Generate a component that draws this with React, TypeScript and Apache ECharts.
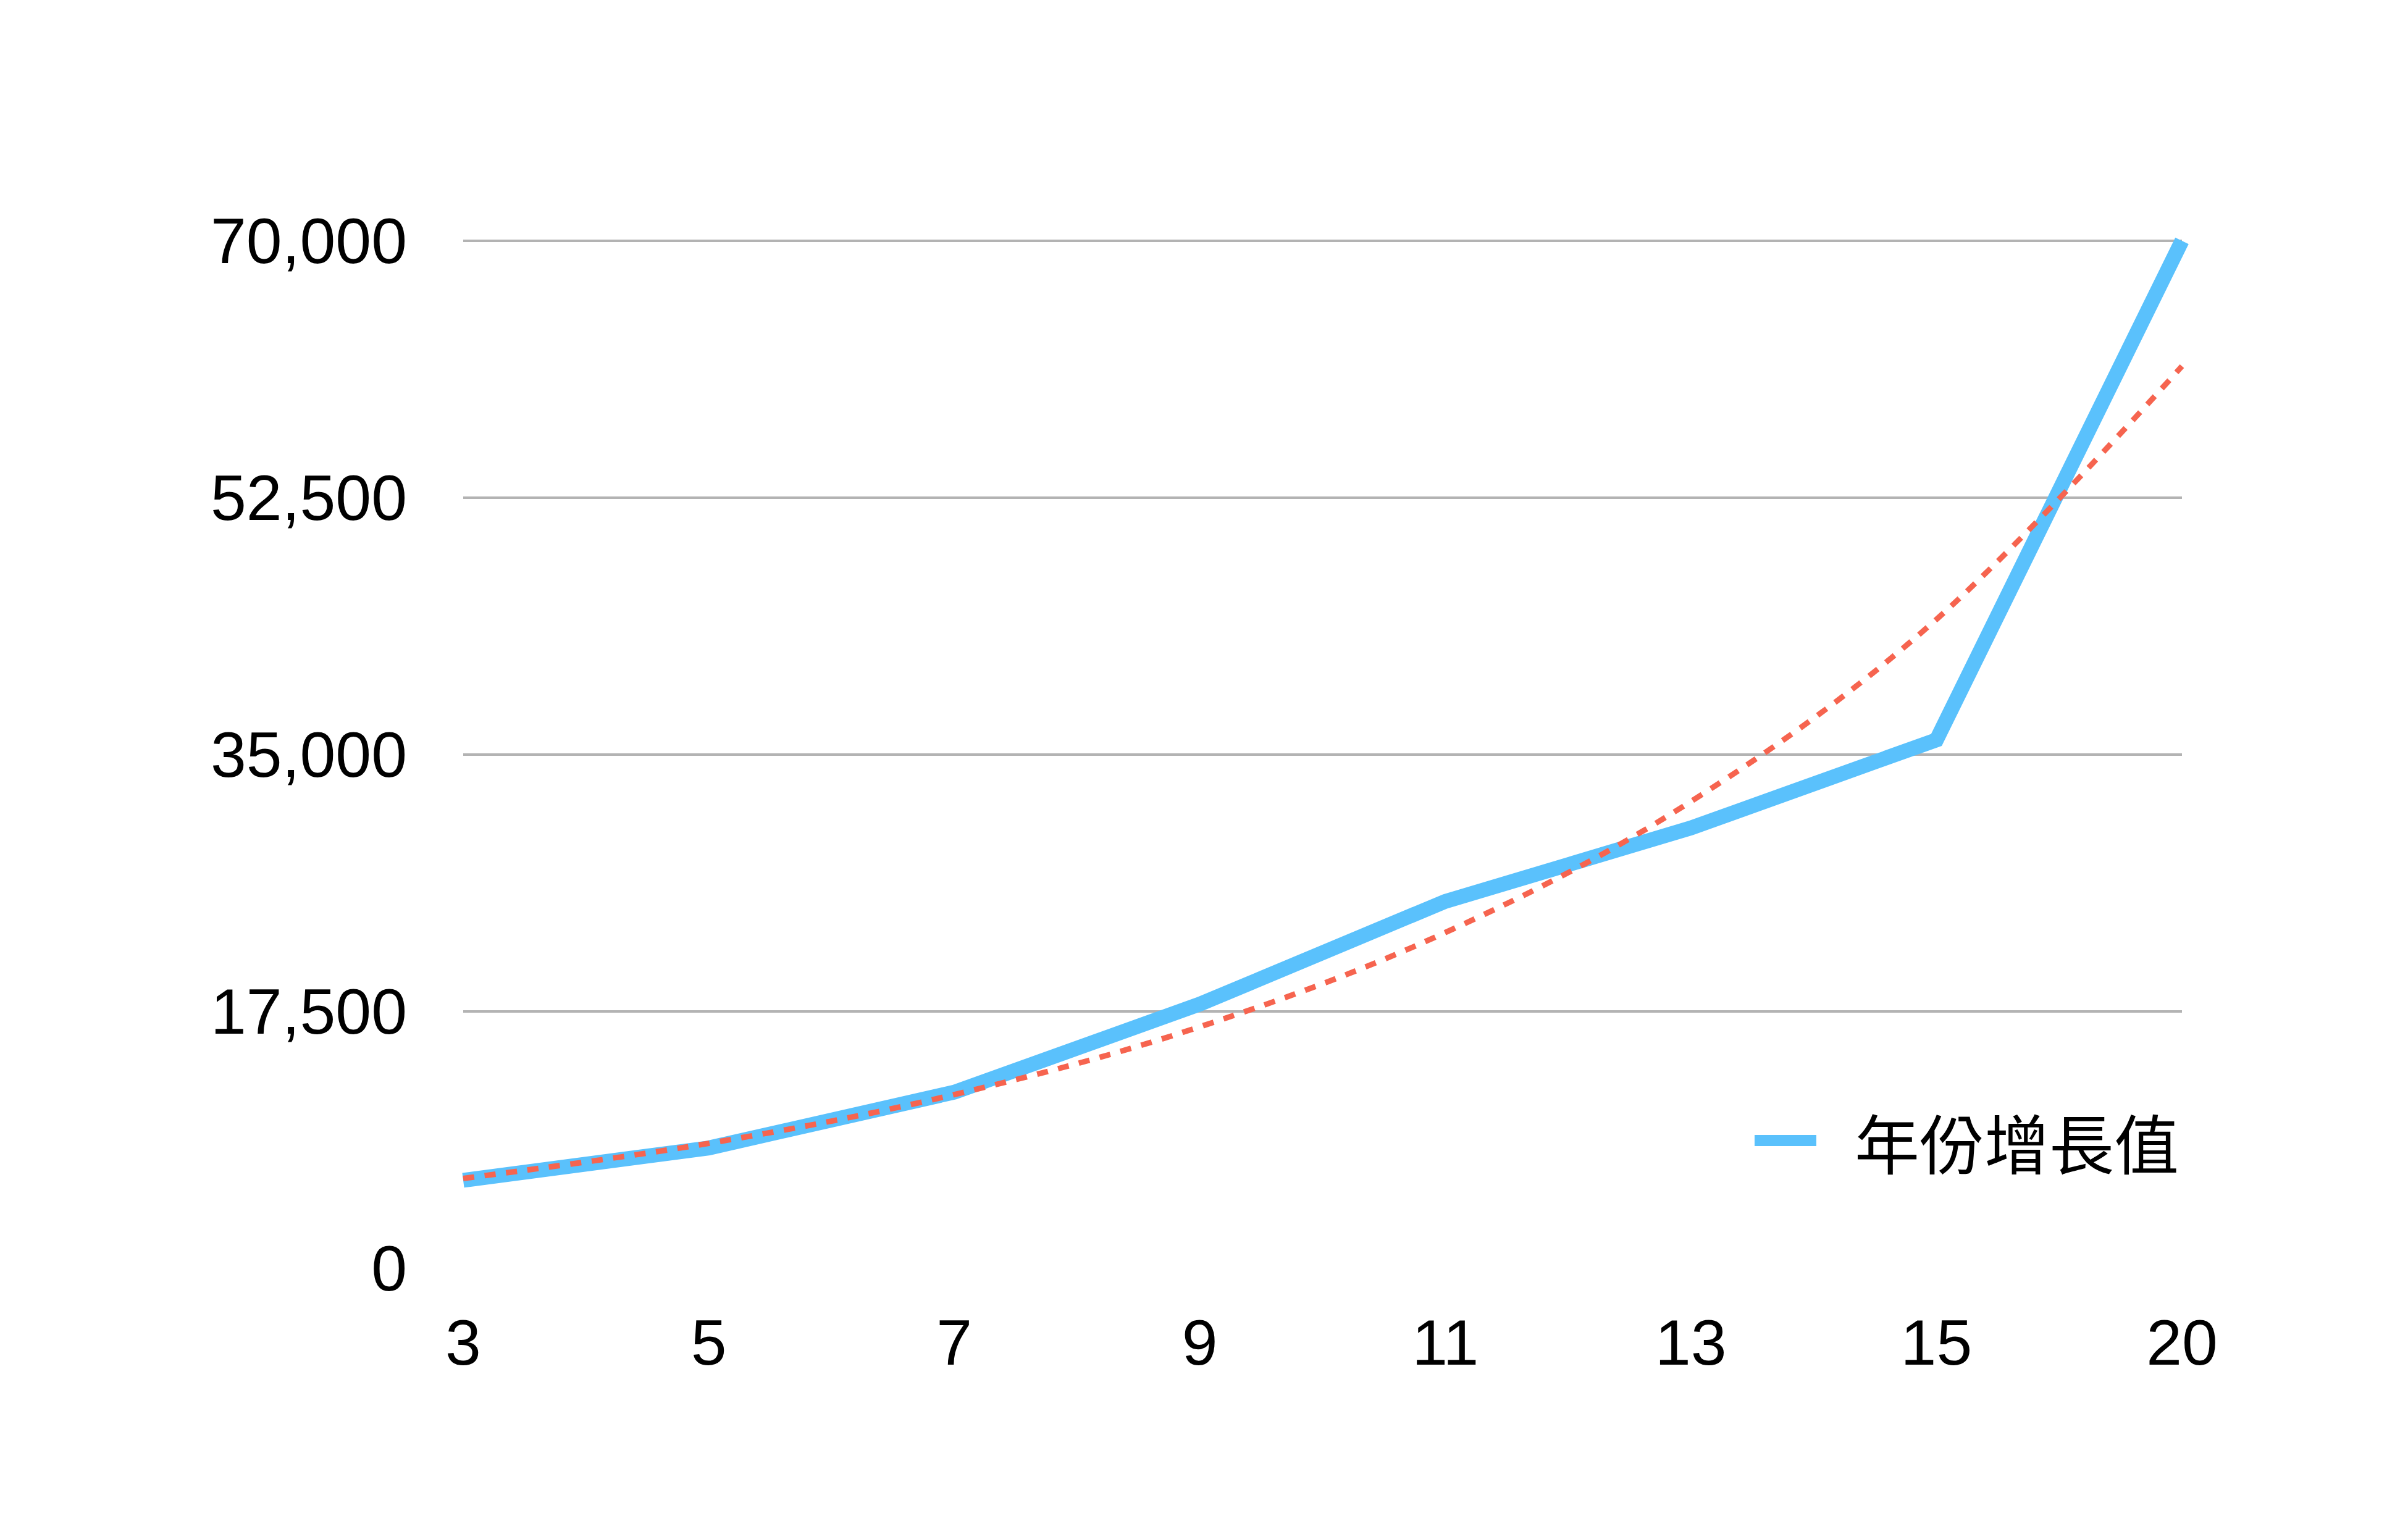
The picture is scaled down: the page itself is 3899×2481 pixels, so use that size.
import React, { useEffect, useRef } from "react";
import * as echarts from "echarts";

// Category labels along the x axis
const categories: string[] = ["3", "5", "7", "9", "11", "13", "15", "20"];

// Yearly growth values
const growthValues: number[] = [6000, 8200, 12000, 18000, 25000, 30000, 36000, 70000];

// Value axis ticks
const yMin = 0;
const yMax = 70000;
const yStep = 17500;

const seriesName = "年份增長值";

// Exponential least-squares trendline (y = A·e^(b·x)) over the category index 1..n
function exponentialTrend(values: number[]): number[] {
  const n = values.length;
  const xs = values.map((_, i) => i + 1);
  const ls = values.map((v) => Math.log(v));
  const mx = xs.reduce((s, x) => s + x, 0) / n;
  const ml = ls.reduce((s, l) => s + l, 0) / n;
  let sxy = 0;
  let sxx = 0;
  for (let i = 0; i < n; i++) {
    sxy += (xs[i] - mx) * (ls[i] - ml);
    sxx += (xs[i] - mx) * (xs[i] - mx);
  }
  const b = sxy / sxx;
  const a = ml - b * mx;
  return xs.map((x) => Math.round(Math.exp(a + b * x)));
}

const trendValues = exponentialTrend(growthValues);

const FONT = '"Liberation Sans", "Noto Sans CJK TC", Arial, sans-serif';

export default function App() {
  const ref = useRef<HTMLDivElement>(null);

  useEffect(() => {
    if (!ref.current) return;
    const chart = echarts.init(ref.current, undefined, { renderer: "svg" });
    chart.setOption({
      animation: false,
      backgroundColor: "#ffffff",
      textStyle: { fontFamily: FONT },
      grid: { left: 750, right: 366, top: 390, bottom: 427, containLabel: false },
      legend: {
        data: [{ name: seriesName, icon: "rect" }],
        right: 366,
        top: 1786,
        itemWidth: 100,
        itemHeight: 18,
        itemGap: 0,
        textStyle: {
          fontFamily: '"Noto Sans CJK TC", "Noto Sans CJK SC", sans-serif',
          fontSize: 105,
          color: "#000000",
          padding: [0, 0, 0, 57],
          lineHeight: 112,
        },
      },
      xAxis: {
        type: "category",
        data: categories,
        boundaryGap: false,
        axisLine: { show: false },
        axisTick: { show: false },
        splitLine: { show: false },
        axisLabel: {
          color: "#000000",
          fontSize: 104,
          fontFamily: FONT,
          margin: 68,
        },
      },
      yAxis: {
        type: "value",
        min: yMin,
        max: yMax,
        interval: yStep,
        axisLine: { show: false },
        axisTick: { show: false },
        axisLabel: {
          color: "#000000",
          fontSize: 104,
          fontFamily: FONT,
          margin: 91,
          formatter: (v: number) => v.toLocaleString("en-US"),
        },
        splitLine: {
          show: true,
          lineStyle: { color: "#b3b3b3", width: 4 },
          showMinLine: false,
        },
      },
      series: [
        {
          name: seriesName,
          type: "line",
          data: growthValues,
          showSymbol: false,
          symbol: "none",
          color: "#5ac1fc",
          lineStyle: { color: "#5ac1fc", width: 24, cap: "butt", join: "miter" },
          z: 2,
        },
        {
          name: "趨勢線",
          type: "line",
          data: trendValues,
          showSymbol: false,
          symbol: "none",
          smooth: 0.35,
          color: "#f6644f",
          lineStyle: { color: "#f6644f", width: 9, type: [18, 17], cap: "butt" },
          z: 3,
        },
      ],
    });
    return () => chart.dispose();
  }, []);

  return (
    <div
      ref={ref}
      style={{ position: "fixed", left: 0, top: 0, width: 3899, height: 2481 }}
    />
  );
}
